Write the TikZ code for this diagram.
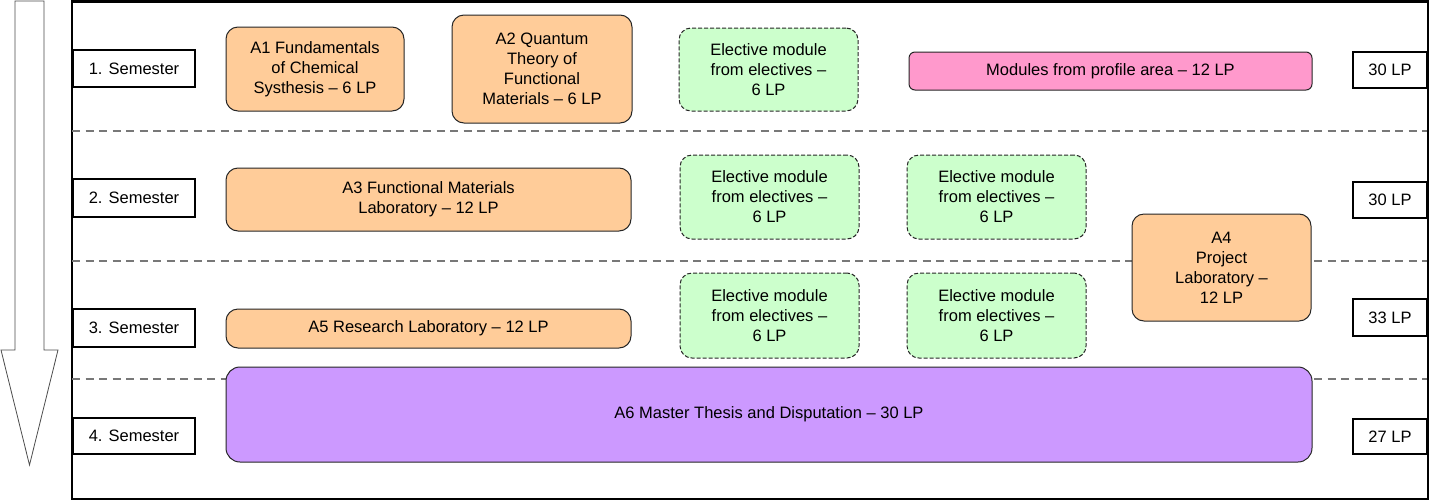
\documentclass[tikz,border=0pt]{standalone}
\usepackage{fontspec}
\setmainfont{Liberation Sans}
\begin{document}
\begin{tikzpicture}[x=1pt,y=-1pt,
  every node/.style={font=\fontsize{16.5}{20}\selectfont, align=center, inner sep=0pt},
  sembox/.style={draw=black, line width=2pt, fill=white, minimum width=122pt, anchor=west},
  lpbox/.style={draw=black, line width=2pt, fill=white, minimum width=74pt, anchor=east},
  modbox/.style={draw=black!85, line width=1pt, rounded corners=12pt},
  core/.style={modbox, fill={rgb,255:red,255;green,204;blue,153}},
  elective/.style={modbox, fill={rgb,255:red,204;green,255;blue,204}, dash pattern=on 4pt off 2pt},
  profile/.style={modbox, fill={rgb,255:red,255;green,153;blue,204}, rounded corners=6pt},
  thesis/.style={modbox, fill={rgb,255:red,204;green,153;blue,255}, rounded corners=14pt},
  sepline/.style={draw={rgb,255:red,120;green,120;blue,120}, line width=2.2pt, dash pattern=on 8pt off 5.5pt}
]
\useasboundingbox (0,0) rectangle (1431,501);
% time arrow
\draw[draw=black!70, line width=0.8pt, fill=white]
  (15,1) -- (44,1) -- (44,350) -- (58,350) -- (29.5,465) -- (1,350) -- (15,350) -- cycle;
% frame
\draw[line width=2.5pt] (72,1.5) rectangle (1428,499);
% separators
\coordinate (s1l) at (72,131); \coordinate (s1r) at (1427,131);
\coordinate (s2l) at (72,261); \coordinate (s2r) at (1427,261);
\coordinate (s3l) at (72,379); \coordinate (s3r) at (1427,379);
\draw[sepline] (s1l) -- (s1r);
\draw[sepline] (s2l) -- (s2r);
\draw[sepline] (s3l) -- (s3r);
% semester boxes
\node[sembox, minimum height=37pt] (sem1) at (72,68.5) {1. Semester};
\node[sembox, minimum height=38pt] (sem2) at (72,198) {2. Semester};
\node[sembox, minimum height=38pt] (sem3) at (72,328) {3. Semester};
\node[sembox, minimum height=36pt] (sem4) at (72,436) {4. Semester};
% LP boxes
\node[lpbox, minimum height=36pt] (lp1) at (1428,70) {30 LP};
\node[lpbox, minimum height=36pt] (lp2) at (1428,200) {30 LP};
\node[lpbox, minimum height=37pt] (lp3) at (1428,317.5) {33 LP};
\node[lpbox, minimum height=35pt] (lp4) at (1428,436.5) {27 LP};
% modules semester 1
\node[core, minimum width=178pt, minimum height=84pt] (a1) at (315,69) {A1 Fundamentals\\of Chemical\\Systhesis -- 6 LP};
\node[core, minimum width=180pt, minimum height=108pt] (a2) at (542,69) {A2 Quantum\\Theory of\\Functional\\Materials -- 6 LP};
\node[elective, minimum width=179pt, minimum height=83pt] (e1) at (768.5,69.5) {Elective module\\from electives --\\6 LP};
\node[profile, minimum width=403pt, minimum height=38pt] (pr) at (1110.5,71) {Modules from profile area -- 12 LP};
% semester 2
\node[core, minimum width=405pt, minimum height=63pt] (a3) at (428.5,199.5) {A3 Functional Materials\\Laboratory -- 12 LP};
\node[elective, minimum width=179pt, minimum height=84pt] (e2) at (769.5,197) {Elective module\\from electives --\\6 LP};
\node[elective, minimum width=179pt, minimum height=84pt] (e3) at (996.5,197) {Elective module\\from electives --\\6 LP};
% A4 spanning semesters 2-3
\node[core, minimum width=179pt, minimum height=107pt] (a4) at (1221.5,267.5) {A4\\Project\\Laboratory --\\12 LP};
% semester 3
\node[elective, minimum width=179pt, minimum height=85pt] (e4) at (769.5,315.5) {Elective module\\from electives --\\6 LP};
\node[elective, minimum width=179pt, minimum height=85pt] (e5) at (996.5,315.5) {Elective module\\from electives --\\6 LP};
\node[core, minimum width=405pt, minimum height=39pt] (a5) at (428.5,328.5) {A5 Research Laboratory -- 12 LP};
% semester 4
\node[thesis, minimum width=1086pt, minimum height=95pt] (a6) at (769,414.5) {A6 Master Thesis and Disputation -- 30 LP};
\end{tikzpicture}
\end{document}
